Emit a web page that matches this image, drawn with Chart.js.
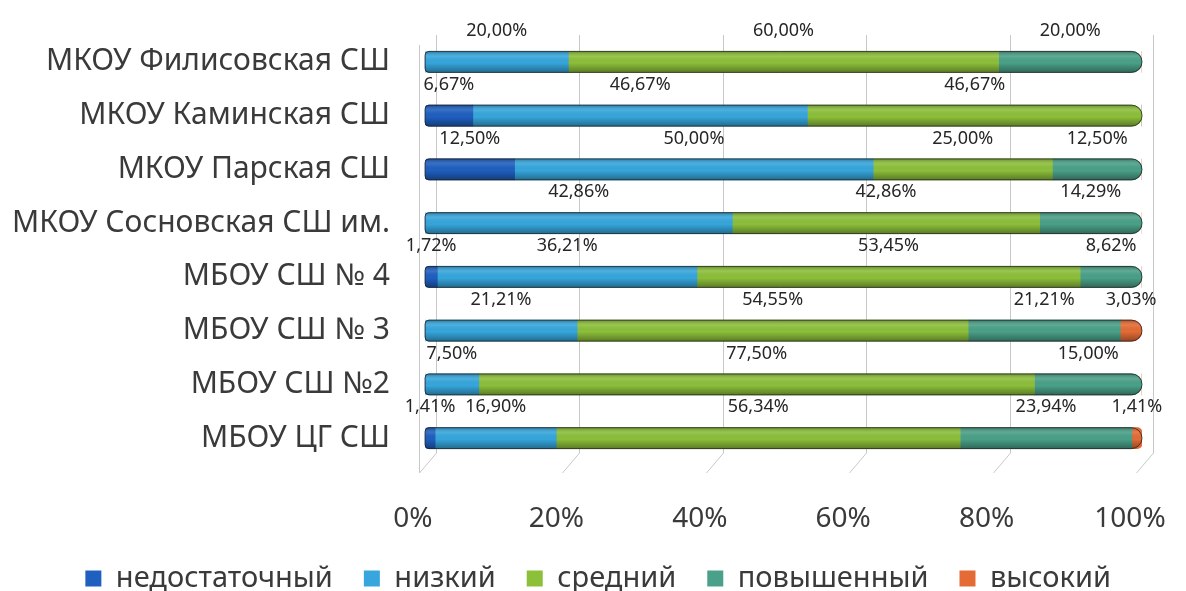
<!DOCTYPE html>
<html>
<head>
    <title>Уровни по школам</title>
    <script src="https://cdn.jsdelivr.net/npm/chart.js"></script>
    <style>
        body { margin: 0; background: #fff; }
        #wrap { width: 1186px; height: 591px; }
    </style>
</head>
<body>
<div id="wrap"><canvas id="levelsChart"></canvas></div>
<script>
    // categories (top to bottom)
    var schools = [
        'МКОУ Филисовская СШ',
        'МКОУ Каминская СШ',
        'МКОУ Парская СШ',
        'МКОУ Сосновская СШ им.',
        'МБОУ СШ № 4',
        'МБОУ СШ № 3',
        'МБОУ СШ №2',
        'МБОУ ЦГ СШ'
    ];
    // series values, %
    var nedostatochny = [0, 6.67, 12.50, 0, 1.72, 0, 0, 1.41];
    var nizky = [20.00, 46.67, 50.00, 42.86, 36.21, 21.21, 7.50, 16.90];
    var sredny = [60.00, 46.67, 25.00, 42.86, 53.45, 54.55, 77.50, 56.34];
    var povyshenny = [20.00, 0, 12.50, 14.29, 8.62, 21.21, 15.00, 23.94];
    var vysoky = [0, 0, 0, 0, 0, 3.03, 0, 1.41];
    var xTickLabels = ['0%', '20%', '40%', '60%', '80%', '100%'];

    var FONT = '"Noto Sans", sans-serif';

    function fmt(v) {
        return v.toFixed(2).replace('.', ',') + '%';
    }

    // which datasets are first / last non-zero in a row -> rounded ends
    function rowEnds(chart, row) {
        var first = -1, last = -1;
        chart.data.datasets.forEach(function(ds, i) {
            if (ds.data[row] > 0) {
                if (first < 0) first = i;
                last = i;
            }
        });
        return { first: first, last: last };
    }

    var ctx = document.getElementById('levelsChart').getContext('2d');

    // floor/back wall grid lines like the 3D excel chart
    var gridPlugin = {
        id: 'wallGrid',
        beforeDatasetsDraw: function(chart) {
            var c = chart.ctx, xs = chart.scales.x, area = chart.chartArea;
            c.save();
            c.strokeStyle = '#c8c8c8';
            c.lineWidth = 1;
            for (var v = 0; v <= 100; v += 20) {
                var px = Math.round(xs.getPixelForValue(v));
                c.beginPath();
                c.moveTo(px + 11.5, area.top);
                c.lineTo(px + 11.5, area.bottom - 12);
                c.lineTo(px - 5.5, area.bottom + 8);
                c.stroke();
            }
            // front-left edge
            var p0 = Math.round(xs.getPixelForValue(0));
            c.beginPath();
            c.moveTo(p0 - 5.5, area.top + 10);
            c.lineTo(p0 - 5.5, area.bottom + 8);
            c.stroke();
            c.restore();
        }
    };

    // cylinder shading + outline + value labels above every bar
    var labelPlugin = {
        id: 'barLabels',
        afterDatasetsDraw: function(chart) {
            var c = chart.ctx;
            var n = chart.data.labels.length;
            for (var row = 0; row < n; row++) {
                var ends = rowEnds(chart, row);
                if (ends.first < 0) continue;
                var b0 = chart.getDatasetMeta(ends.first).data[row];
                var b1 = chart.getDatasetMeta(ends.last).data[row];
                var left = b0.base, right = b1.x, top = b0.y - b0.height / 2, h = b0.height;
                var r = h / 2;
                c.save();
                c.beginPath();
                c.moveTo(left + 4, top);
                c.lineTo(right - r, top);
                c.arc(right - r, top + r, r, -Math.PI / 2, Math.PI / 2);
                c.lineTo(left + 4, top + h);
                c.quadraticCurveTo(left, top + h, left, top + h - 4);
                c.lineTo(left, top + 4);
                c.quadraticCurveTo(left, top, left + 4, top);
                c.closePath();
                var g = c.createLinearGradient(0, top, 0, top + h);
                g.addColorStop(0, 'rgba(0,0,0,0.28)');
                g.addColorStop(0.25, 'rgba(255,255,255,0.10)');
                g.addColorStop(0.55, 'rgba(0,0,0,0)');
                g.addColorStop(1, 'rgba(0,0,0,0.35)');
                c.fillStyle = g;
                c.fill();
                c.strokeStyle = 'rgba(30,30,30,0.75)';
                c.lineWidth = 1;
                c.stroke();
                c.restore();
            }

            c.save();
            c.font = '18px ' + FONT;
            c.fillStyle = '#262626';
            c.textAlign = 'center';
            c.textBaseline = 'middle';
            for (var row2 = 0; row2 < n; row2++) {
                var items = [];
                chart.data.datasets.forEach(function(ds, i) {
                    var v = ds.data[row2];
                    if (!(v > 0)) return;
                    var bar = chart.getDatasetMeta(i).data[row2];
                    var txt = fmt(v);
                    items.push({
                        text: txt,
                        x: (bar.base + bar.x) / 2,
                        y: bar.y - 31,
                        w: c.measureText(txt).width
                    });
                });
                // push overlapping labels apart
                for (var k = 1; k < items.length; k++) {
                    var a = items[k - 1], b = items[k];
                    var overlap = (a.x + a.w / 2 + 6) - (b.x - b.w / 2);
                    if (overlap > 0) {
                        a.x -= overlap / 2;
                        b.x += overlap / 2;
                    }
                }
                items.forEach(function(it) {
                    c.fillText(it.text, it.x, it.y);
                });
            }
            c.restore();
        }
    };

    function radiusFor(context) {
        var ends = rowEnds(context.chart, context.dataIndex);
        var out = { topLeft: 0, bottomLeft: 0, topRight: 0, bottomRight: 0 };
        if (context.datasetIndex === ends.first) { out.topLeft = 4; out.bottomLeft = 4; }
        if (context.datasetIndex === ends.last) { out.topRight = 11; out.bottomRight = 11; }
        return out;
    }

    var levelsChart = new Chart(ctx, {
        type: 'bar',
        data: {
            labels: schools,
            datasets: [
                { label: 'недостаточный', data: nedostatochny, backgroundColor: '#1f5fbf' },
                { label: 'низкий', data: nizky, backgroundColor: '#36a6dc' },
                { label: 'средний', data: sredny, backgroundColor: '#8cbf3a' },
                { label: 'повышенный', data: povyshenny, backgroundColor: '#4aa088' },
                { label: 'высокий', data: vysoky, backgroundColor: '#e46b35' }
            ]
        },
        options: {
            indexAxis: 'y',
            responsive: true,
            maintainAspectRatio: false,
            animation: false,
            datasets: {
                bar: {
                    barThickness: 21,
                    borderSkipped: false,
                    borderWidth: 0,
                    borderRadius: radiusFor
                }
            },
            layout: {
                // legend sits lower than chart.js would put it
                padding: { top: 35, right: 44, left: 0, bottom: -12 }
            },
            scales: {
                x: {
                    stacked: true,
                    min: 0,
                    max: 100,
                    border: { display: false },
                    grid: { display: false, drawTicks: false },
                    ticks: {
                        stepSize: 20,
                        padding: 37,
                        labelOffset: -12,
                        color: '#3a3a3a',
                        font: { family: FONT, size: 28 },
                        callback: function(value, index) {
                            return xTickLabels[index];
                        }
                    },
                    afterFit: function(scale) {
                        scale.paddingLeft = 0;
                        scale.paddingRight = 0;
                        scale.height = 68;
                    }
                },
                y: {
                    stacked: true,
                    border: { display: false },
                    grid: { display: false, drawTicks: false },
                    ticks: {
                        padding: 35,
                        color: '#3a3a3a',
                        font: { family: FONT, size: 30 }
                    },
                    afterFit: function(scale) {
                        scale.width = 425;
                        scale.paddingTop = 0;
                        scale.paddingBottom = 0;
                    }
                }
            },
            plugins: {
                legend: {
                    position: 'bottom',
                    align: 'end',
                    labels: {
                        boxWidth: 16,
                        boxHeight: 16,
                        padding: 31,
                        color: '#3a3a3a',
                        font: { family: FONT, size: 29 }
                    }
                },
                tooltip: {
                    callbacks: {
                        label: function(item) {
                            return item.dataset.label + ': ' + fmt(item.raw);
                        }
                    }
                }
            }
        },
        plugins: [gridPlugin, labelPlugin]
    });
</script>
</body>
</html>
